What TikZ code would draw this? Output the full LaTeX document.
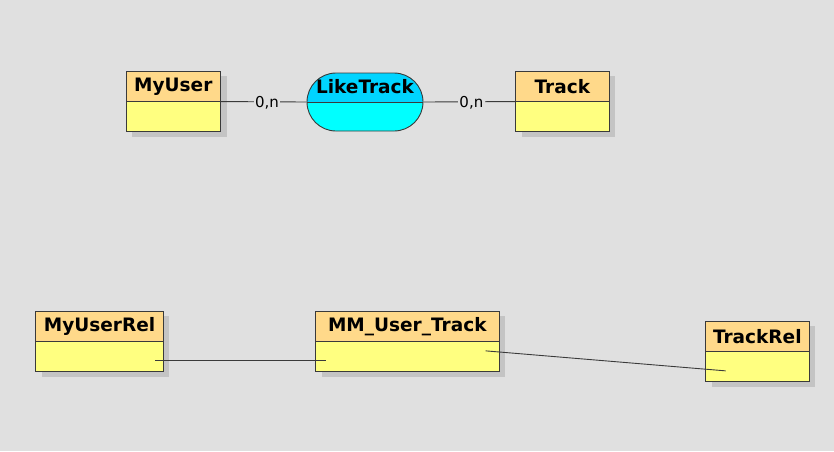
\documentclass[tikz,border=0pt]{standalone}
\usepackage{fontspec}
\setmainfont{DejaVu Sans}
\usepackage{tikz}
\usetikzlibrary{positioning,shadows,shapes.misc,calc}

\definecolor{bggray}{HTML}{E0E0E0}
\definecolor{shadegray}{HTML}{C4C4C4}
\definecolor{headorange}{HTML}{FFD98A}
\definecolor{bodyyellow}{HTML}{FFFF80}
\definecolor{headcyan}{HTML}{00D4FF}
\definecolor{bodycyan}{HTML}{00FFFF}
\definecolor{edgegray}{HTML}{3A3A3A}

\tikzset{
  box/.style={draw=edgegray, line width=0.9pt, inner sep=0pt, outer sep=0pt,
    drop shadow={shadow xshift=6pt, shadow yshift=-5pt, fill=shadegray, opacity=1}},
  head/.style={box, fill=headorange, minimum height=30.5pt,
    font=\bfseries\fontsize{18.5}{20}\selectfont},
  body/.style={box, fill=bodyyellow, minimum height=30pt},
  relation/.style={rounded rectangle, draw=edgegray, line width=0.9pt,
    fill=bodycyan, minimum width=116pt, minimum height=58pt, inner sep=0pt,
    path picture={
      \fill[headcyan] (path picture bounding box.north west) rectangle (path picture bounding box.east);
      \draw[edgegray, line width=0.9pt] (path picture bounding box.west) -- (path picture bounding box.east);
    }},
  title/.style={inner sep=0pt, font=\bfseries\fontsize{18.5}{20}\selectfont},
  link/.style={draw=edgegray, line width=0.9pt},
  card/.style={fill=bggray, inner sep=1.5pt, font=\fontsize{15}{17}\selectfont}
}

\begin{document}
\begin{tikzpicture}[x=1pt,y=-1pt]

\fill[bggray] (0,0) rectangle (834,451);
\useasboundingbox (0,0) rectangle (834,451);

% conceptual model
\node[head, minimum width=94.7pt] (myuser) at (173.3,86.3) {MyUser};
\node[body, minimum width=94.7pt, below=0pt of myuser] (myuserbody) {};

\node[head, minimum width=93.3pt] (track) at (562.3,86.3) {Track};
\node[body, minimum width=93.3pt, below=0pt of track] (trackbody) {};

\node[relation] (liketrack) at (365,102) {};
\node[title] (liketracktitle) at ([yshift=15pt]liketrack.center) {LikeTrack};

\draw[link] (myuser.south east) -- node[card, pos=0.54, yshift=-1pt] {0,n} (liketrack.west);
\draw[link] (liketrack.east) -- node[card, pos=0.52, yshift=-1pt] {0,n} (track.south west);

% relational model
\node[head, minimum width=127.6pt] (myuserrel) at (99.5,326.3) {MyUserRel};
\node[body, minimum width=127.6pt, below=0pt of myuserrel] (myuserrelbody) {};

\node[head, minimum width=183.3pt] (mmusertrack) at (407.3,326.3) {MM\_User\_Track};
\node[body, minimum width=183.3pt, below=0pt of mmusertrack] (mmusertrackbody) {};

\node[head, minimum width=103.3pt] (trackrel) at (757.3,336.3) {TrackRel};
\node[body, minimum width=103.3pt, below=0pt of trackrel] (trackrelbody) {};

\draw[link] ($(myuserrelbody.south east)+(-8,-11.4)$) -- ($(mmusertrackbody.south west)+(10,-11.4)$);
\draw[link] ($(mmusertrackbody.north east)+(-13.3,9.3)$) -- ($(trackrelbody.north west)+(20,19.3)$);

\end{tikzpicture}
\end{document}
